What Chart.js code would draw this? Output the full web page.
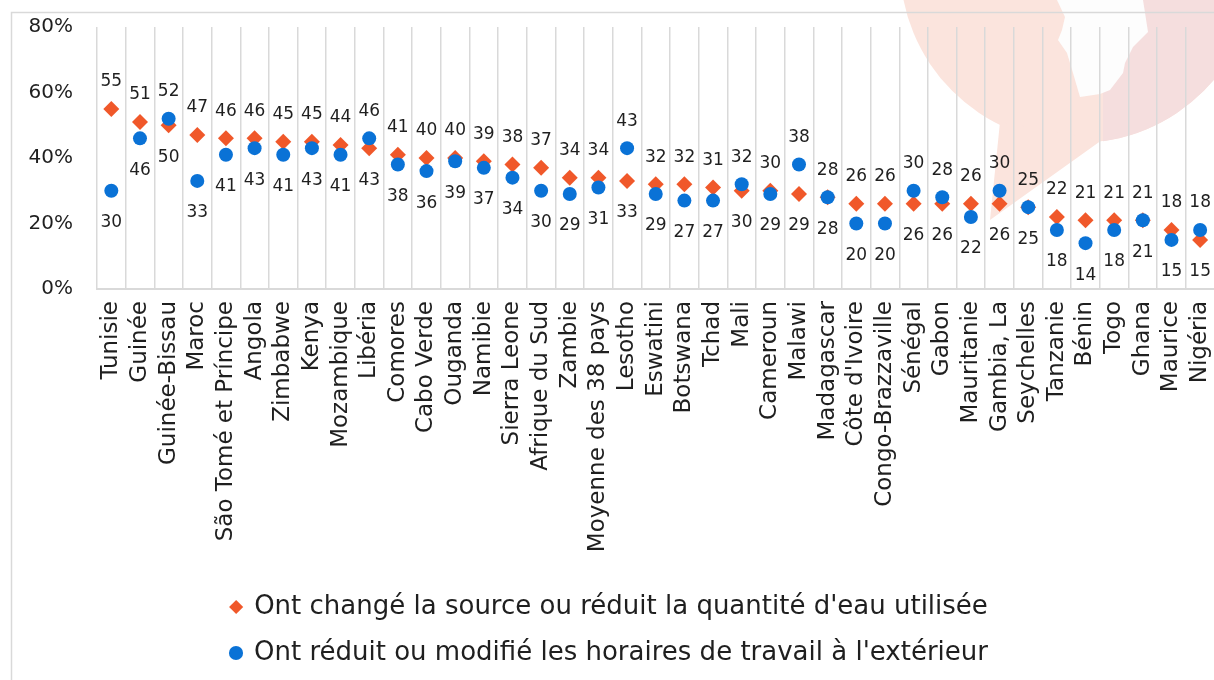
<!DOCTYPE html>
<html>
<head>
<meta charset="utf-8">
<script src="https://cdn.jsdelivr.net/npm/chart.js@4"></script>
<style>
  html, body { margin: 0; padding: 0; background: #fff; overflow: hidden; }
  #wrap { position: absolute; left: 0; top: 0; width: 1240px; height: 700px; }
</style>
</head>
<body>
<div id="wrap"><canvas id="chart" width="1240" height="700"></canvas></div>
<script>
const countries = ["Tunisie", "Guinée", "Guinée-Bissau", "Maroc", "São Tomé et Príncipe", "Angola", "Zimbabwe", "Kenya",
  "Mozambique", "Libéria", "Comores", "Cabo Verde", "Ouganda", "Namibie", "Sierra Leone", "Afrique du Sud", "Zambie",
  "Moyenne des 38 pays", "Lesotho", "Eswatini", "Botswana", "Tchad", "Mali", "Cameroun", "Malawi", "Madagascar",
  "Côte d'Ivoire", "Congo-Brazzaville", "Sénégal", "Gabon", "Mauritanie", "Gambia, La", "Seychelles", "Tanzanie",
  "Bénin", "Togo", "Ghana", "Maurice", "Nigéria"];

const waterValues = [55, 51, 50, 47, 46, 46, 45, 45, 44, 43, 41, 40, 40, 39, 38, 37, 34, 34, 33, 32,
  32, 31, 30, 30, 29, 28, 26, 26, 26, 26, 26, 26, 25, 22, 21, 21, 21, 18, 15];
const workValues = [30, 46, 52, 33, 41, 43, 41, 43, 41, 46, 38, 36, 39, 37, 34, 30, 29, 31, 43, 29,
  27, 27, 32, 29, 38, 28, 20, 20, 30, 28, 22, 30, 25, 18, 14, 18, 21, 15, 18];

const yTicks = [0, 20, 40, 60, 80];

const seriesNames = [
  "Ont changé la source ou réduit la quantité d'eau utilisée",
  "Ont réduit ou modifié les horaires de travail à l'extérieur"
];

const FONT = "'DejaVu Sans', sans-serif";
const TEXT = '#1f1f1f';
const GRID = '#d9d9d9';

// pale logo in the corner + outer chart frame
const backdrop = {
  id: 'backdrop',
  beforeDraw(chart) {
    const c = chart.ctx;
    c.save();
    c.fillStyle = '#fbe4dd';
    c.beginPath();
    c.arc(1078, -35, 178, 0, Math.PI * 2);
    c.fill();
    c.beginPath();
    c.moveTo(1000, 122);
    c.lineTo(990, 220);
    c.lineTo(1102, 140);
    c.closePath();
    c.fill();
    // right half is a bit greyer
    c.save();
    c.beginPath();
    c.rect(1103, -300, 300, 600);
    c.clip();
    c.fillStyle = '#f5dede';
    c.beginPath();
    c.arc(1078, -35, 178, 0, Math.PI * 2);
    c.fill();
    c.restore();
    // white cut-out
    c.fillStyle = '#fdfdfd';
    c.beginPath();
    const pts = [[1057, 0], [1065, 17], [1062, 30], [1058, 40], [1067, 53], [1073, 73], [1080, 97], [1100, 94],
      [1110, 90], [1123, 73], [1125, 63], [1133, 47], [1148, 32], [1143, 0]];
    pts.forEach((p, i) => i ? c.lineTo(p[0], p[1]) : c.moveTo(p[0], p[1]));
    c.closePath();
    c.fill();
    // frame
    c.strokeStyle = GRID;
    c.lineWidth = 1.5;
    c.strokeRect(11.5, 12.5, 1400, 900);
    c.restore();
  }
};

// value labels: larger value above its marker, smaller one below
const valueLabels = {
  id: 'valueLabels',
  afterDatasetsDraw(chart) {
    const c = chart.ctx;
    const m0 = chart.getDatasetMeta(0);
    const m1 = chart.getDatasetMeta(1);
    c.save();
    c.font = '17px ' + FONT;
    c.fillStyle = TEXT;
    c.textAlign = 'center';
    c.textBaseline = 'middle';
    countries.forEach((_, i) => {
      const a = waterValues[i], b = workValues[i];
      const pa = m0.data[i], pb = m1.data[i];
      const aUp = a >= b;
      c.fillText(Math.round(a), pa.x, pa.y + (aUp ? -27 : 32));
      c.fillText(Math.round(b), pb.x, pb.y + (aUp ? 32 : -27));
    });
    c.restore();
  }
};

new Chart(document.getElementById('chart'), {
  type: 'line',
  data: {
    labels: countries,
    datasets: [
      {
        label: seriesNames[0],
        data: waterValues,
        showLine: false,
        pointStyle: 'rectRot',
        pointRadius: 8,
        pointHoverRadius: 8,
        pointBackgroundColor: '#f0582a',
        pointBorderWidth: 0,
        backgroundColor: '#f0582a',
        borderColor: '#f0582a',
        order: 2
      },
      {
        label: seriesNames[1],
        data: workValues,
        showLine: false,
        pointStyle: 'circle',
        pointRadius: 7,
        pointHoverRadius: 7,
        pointBackgroundColor: '#0a72d6',
        pointBorderWidth: 0,
        backgroundColor: '#0a72d6',
        borderColor: '#0a72d6',
        order: 1
      }
    ]
  },
  options: {
    responsive: false,
    animation: false,
    layout: { padding: { left: 0, right: 21, top: 27, bottom: 24 } },
    scales: {
      x: {
        offset: true,
        grid: { offset: true, color: GRID, lineWidth: 1.5, drawTicks: false },
        border: { color: GRID, width: 2 },
        ticks: {
          autoSkip: false,
          minRotation: 90,
          maxRotation: 90,
          padding: 12,
          color: TEXT,
          font: { family: FONT, size: 23 }
        },
        afterFit: s => { s.height = 285; }
      },
      y: {
        min: 0,
        max: 80,
        grid: { display: false, drawTicks: false },
        border: { display: false },
        afterBuildTicks: s => { s.ticks = yTicks.map(v => ({ value: v })); },
        ticks: {
          padding: 24,
          color: TEXT,
          font: { family: FONT, size: 20 },
          callback: v => v + '%'
        },
        afterFit: s => {
          s.width = 97;
          s.paddingTop = 0;
          s.paddingBottom = 0;
        }
      }
    },
    plugins: {
      legend: {
        position: 'bottom',
        labels: {
          usePointStyle: true,
          boxWidth: 10,
          boxHeight: 10,
          padding: 20,
          color: TEXT,
          font: { family: FONT, size: 26 },
          sort: (a, b) => a.datasetIndex - b.datasetIndex
        }
      },
      tooltip: { enabled: false }
    }
  },
  plugins: [backdrop, valueLabels]
});
</script>
</body>
</html>
